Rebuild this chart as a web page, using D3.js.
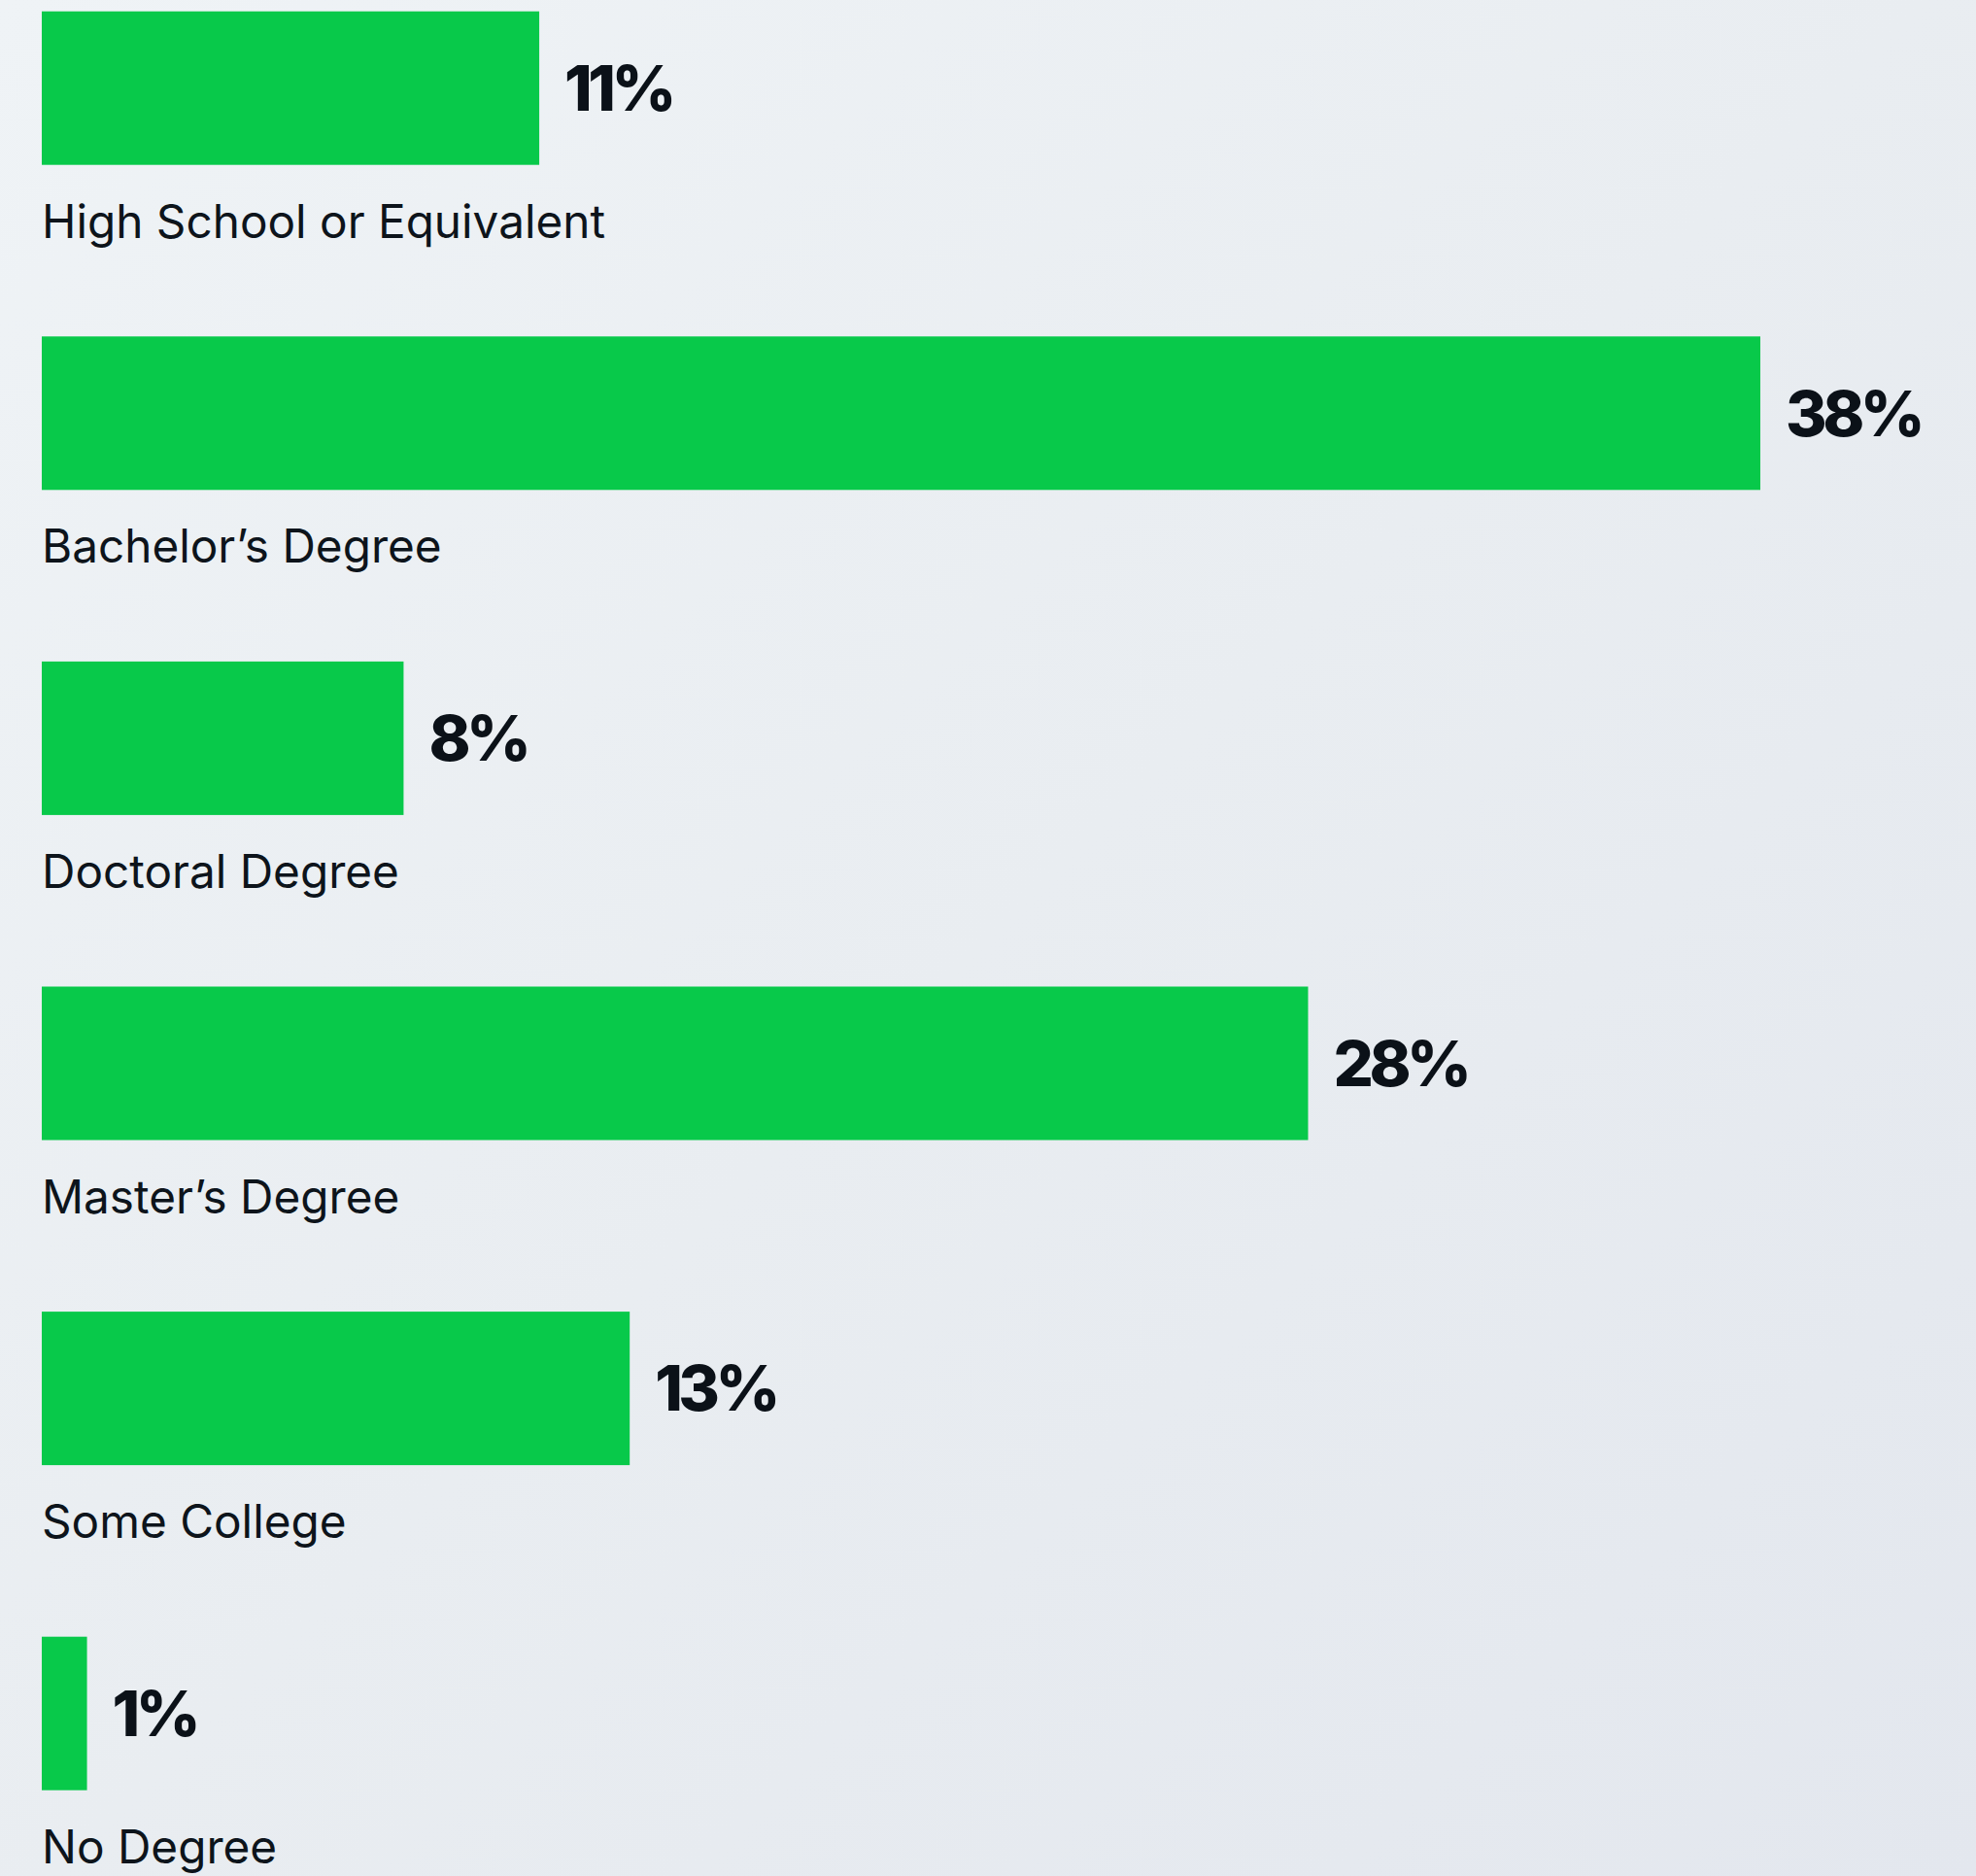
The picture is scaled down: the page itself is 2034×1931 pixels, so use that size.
<!DOCTYPE html>
<meta charset="utf-8">
<style>
html, body { margin: 0; padding: 0; }
body {
  width: 2034px;
  height: 1931px;
  overflow: hidden;
  background: linear-gradient(135deg, #eff3f6 0%, #e9edf1 50%, #e3e7ee 100%);
}
.label {
  font-family: "Inter", sans-serif;
  font-size: 47.7px;
  fill: #0d141b;
}
.value {
  font-family: "Inter", sans-serif;
  font-weight: 800;
  font-size: 65px;
  fill: #0b1118;
  letter-spacing: -4.5px;
}
</style>
<body>
<script src="https://d3js.org/d3.v7.min.js"></script>
<script>

var categories = ["High School or Equivalent", "Bachelor’s Degree", "Doctoral Degree",
                  "Master’s Degree", "Some College", "No Degree"];
var values = [11, 38, 8, 28, 13, 1];

var width = 2034,
    height = 1931;

var svg = d3.select("body").append("svg")
    .attr("width", width)
    .attr("height", height);

// x: 0..38% spans 43 -> 1812
var x = d3.scaleLinear()
    .domain([0, 38])
    .range([43, 1812]);

// each row is one band: bar + label underneath
var y = d3.scaleBand()
    .domain(categories)
    .range([11.7, 11.7 + 334.6 * categories.length])
    .paddingInner(0)
    .paddingOuter(0);

var barH = 158;

var rows = svg.selectAll(".row")
    .data(categories)
    .enter().append("g")
    .attr("class", "row")
    .attr("transform", function(d) { return "translate(0," + y(d) + ")"; });

rows.append("rect")
    .attr("x", x(0))
    .attr("y", 0)
    .attr("width", function(d, i) { return x(values[i]) - x(0); })
    .attr("height", barH)
    .attr("fill", "#08c94a");

rows.append("text")
    .attr("class", "value")
    .attr("x", function(d, i) { return x(values[i]) + 26; })
    .attr("y", barH / 2)
    .attr("dy", "0.36em")
    .text(function(d, i) { return values[i] + "%"; });

rows.append("text")
    .attr("class", "label")
    .attr("x", 43)
    .attr("y", barH + 75)
    .text(function(d) { return d; });

</script>
